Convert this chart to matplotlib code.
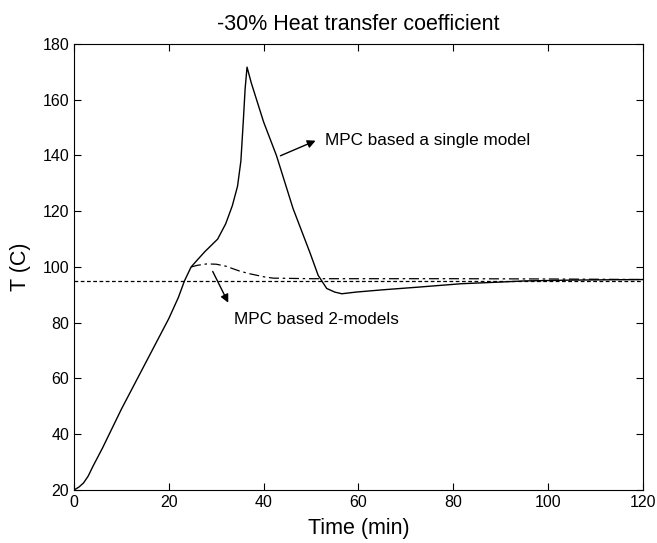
import matplotlib
matplotlib.use("Agg")
import matplotlib.pyplot as plt

plt.rcParams['font.family'] = ['Liberation Sans', 'DejaVu Sans']

# single model MPC (solid)
t_single = [0, 1, 2, 3, 4, 6, 8, 10, 12, 14, 16, 18, 20, 22, 23.3, 24.7, 26, 27.6,
            30.3, 32, 33.4, 34.5, 35.2, 35.7, 36.1, 36.5, 37.4, 40, 42.7, 46.2,
            49.8, 51.5, 53.3, 55, 56.5, 59.5, 65, 72.8, 81.7, 90, 95, 105, 120]
T_single = [20, 21, 22.5, 25, 28.5, 35, 42, 49, 55.5, 62, 68.5, 75, 81.5, 89, 95, 100, 102.5, 105.5,
            110, 115.5, 122, 129, 138, 152, 164, 171.7, 166, 152, 140, 121,
            105, 97, 92.3, 91, 90.4, 91, 91.8, 92.8, 94, 94.6, 95, 95.3, 95.5]

# 2-models MPC (dash-dot), departs from the solid one near t=24.7
t_two = [24.7, 26, 28, 30, 32, 35, 37, 40, 42, 50, 60, 80, 100, 120]
T_two = [100, 100.6, 101.1, 101, 100.3, 98.5, 97.6, 96.5, 96, 95.8, 95.8, 95.8, 95.7, 95.5]

setpoint = 95

fig = plt.figure(figsize=(6.57, 5.43), dpi=100)
ax = fig.add_axes([0.1126, 0.0976, 0.866, 0.8214])

ax.plot(t_single, T_single, color='black', lw=1.0)
ax.plot(t_two, T_two, color='black', lw=0.9, linestyle=(0, (8, 3, 2, 3)))
ax.axhline(setpoint, color='black', lw=0.9, linestyle=(0, (3, 2)))

ax.annotate('', xy=(51.5, 145.7), xytext=(43, 139.5),
            arrowprops=dict(arrowstyle='-|>', color='black', lw=1, mutation_scale=12))
ax.text(52.9, 145.3, 'MPC based a single model', fontsize=12.3, va='center')
ax.annotate('', xy=(32.8, 86.3), xytext=(29, 99.3),
            arrowprops=dict(arrowstyle='-|>', color='black', lw=1, mutation_scale=12))
ax.text(33.7, 81, 'MPC based 2-models', fontsize=12.3, va='center')

ax.set_xlim(0, 120)
ax.set_ylim(20, 180)
ax.set_xticks(range(0, 121, 20))
ax.set_yticks(range(20, 181, 20))
ax.tick_params(direction='in', top=True, right=True, labelsize=11.5, length=5)
ax.set_title('-30% Heat transfer coefficient', fontsize=15.5, pad=10)
ax.set_xlabel('Time (min)', fontsize=15.5, labelpad=6)
ax.set_ylabel('T (C)', fontsize=15.5, labelpad=8)

fig.savefig('out.png', dpi=100)
